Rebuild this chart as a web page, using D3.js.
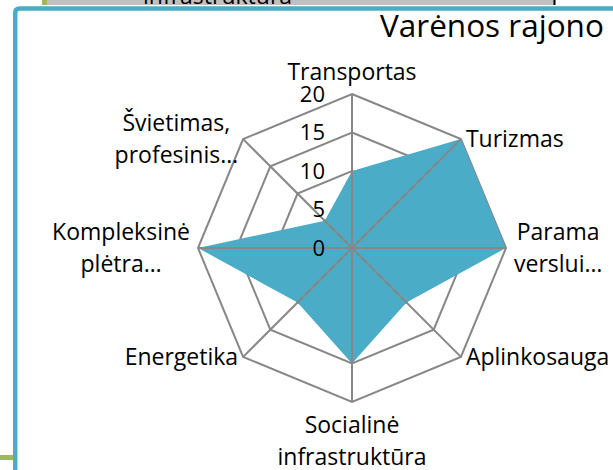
<!DOCTYPE html>
<html>
<head>
<meta charset="utf-8">
<script src="https://d3js.org/d3.v7.min.js"></script>
<style>
body { margin: 0; background: #fff; }
text { font-family: "Open Sans", sans-serif; fill: #000; }
</style>
</head>
<body>
<div id="canvas"></div>
<script>

var width = 613;
var height = 470;

// data
var categories = [
    ["Transportas"],
    ["Turizmas"],
    ["Parama", "verslui…"],
    ["Aplinkosauga"],
    ["Socialinė", "infrastruktūra"],
    ["Energetika"],
    ["Kompleksinė", "plėtra…"],
    ["Švietimas,", "profesinis…"]
];
var values = [10, 20, 20, 10, 15, 10, 20, 5];
var ticks = [0, 5, 10, 15, 20];
var title = "Varėnos rajono";

var cx = 352;
var cy = 248;
var radius = 154;
var lineH = 32;
var capH = 16.5;
var gridColor = "#878787";
var fillColor = "#4aacc6";

var svg = d3.select("#canvas").append("svg").attr("width", width).attr("height", height);

// bits of the slide around the chart
svg.append("rect").attr("x", 47).attr("y", -2).attr("width", 507).attr("height", 7).attr("fill", "#c0c0c0");
svg.append("clipPath").attr("id", "topclip").append("rect").attr("x", 47).attr("y", 0).attr("width", 507).attr("height", 5);
svg.append("text")
    .attr("clip-path", "url(#topclip)")
    .attr("x", 143).attr("y", 3.5)
    .style("font-size", "23px")
    .text("infrastruktūra");
svg.append("line").attr("x1", 554.5).attr("y1", 0).attr("x2", 554.5).attr("y2", 5).attr("stroke", "#000").attr("stroke-width", 2);
svg.append("rect").attr("x", 42).attr("y", 0).attr("width", 5).attr("height", 5).attr("fill", "#9bbb59");
svg.append("rect").attr("x", 0).attr("y", 455).attr("width", 13).attr("height", 5).attr("fill", "#9bbb59");
svg.append("path")
    .attr("d", "M15.2,472 L15.2,13 Q15.2,8.5 19.7,8.5 L615,8.5")
    .attr("fill", "none")
    .attr("stroke", "#4bacc6")
    .attr("stroke-width", 4.5);

var r = d3.scaleLinear().domain([0, 20]).range([0, radius]);
var angle = d3.scaleLinear().domain([0, categories.length]).range([0, 2 * Math.PI]);

var g = svg.append("g").attr("transform", "translate(" + cx + "," + cy + ")");

var ring = d3.lineRadial()
    .angle(function(d, i) { return angle(i); })
    .radius(function(d) { return r(d); })
    .curve(d3.curveLinearClosed);

// rings
ticks.slice(1).forEach(function(t) {
    g.append("path")
        .attr("d", ring(categories.map(function() { return t; })))
        .attr("fill", "none")
        .attr("stroke", gridColor)
        .attr("stroke-width", 2);
});

// series
g.append("path")
    .attr("d", ring(values))
    .attr("fill", fillColor)
    .attr("stroke", "none");

// spokes
categories.forEach(function(c, i) {
    var a = angle(i);
    g.append("line")
        .attr("x1", 0).attr("y1", 0)
        .attr("x2", r(20) * Math.sin(a))
        .attr("y2", -r(20) * Math.cos(a))
        .attr("stroke", gridColor)
        .attr("stroke-width", 2);
});

// value labels
ticks.forEach(function(t) {
    g.append("text")
        .attr("x", -27)
        .attr("y", -r(t) + 2)
        .attr("text-anchor", "end")
        .attr("dominant-baseline", "middle")
        .style("font-size", "22px")
        .text(t);
});

// category labels
categories.forEach(function(lines, i) {
    var a = angle(i);
    var s = Math.sin(a), c = Math.cos(a);
    var vx = r(20) * s, vy = -r(20) * c;
    var txt = g.append("text")
        .attr("text-anchor", "middle")
        .style("font-size", "23px");
    var spans = lines.map(function(l) { return txt.append("tspan").text(l); });
    var w = d3.max(spans, function(sp) { return sp.node().getComputedTextLength(); });
    var x, y0;
    if (Math.abs(s) < 0.01) {
        x = vx;
        y0 = c > 0 ? vy - 14 : vy + 31;
    } else {
        var gap = Math.abs(s) > 0.99 ? 8 : 5;
        x = s > 0 ? vx + gap + w / 2 : vx - gap - w / 2;
        y0 = vy - ((lines.length - 1) * lineH - capH) / 2;
    }
    spans.forEach(function(sp, k) {
        sp.attr("x", x).attr("y", y0 + k * lineH);
    });
});

svg.append("text")
    .attr("x", 380)
    .attr("y", 37)
    .style("font-size", "31.5px")
    .text(title);

</script>
</body>
</html>
